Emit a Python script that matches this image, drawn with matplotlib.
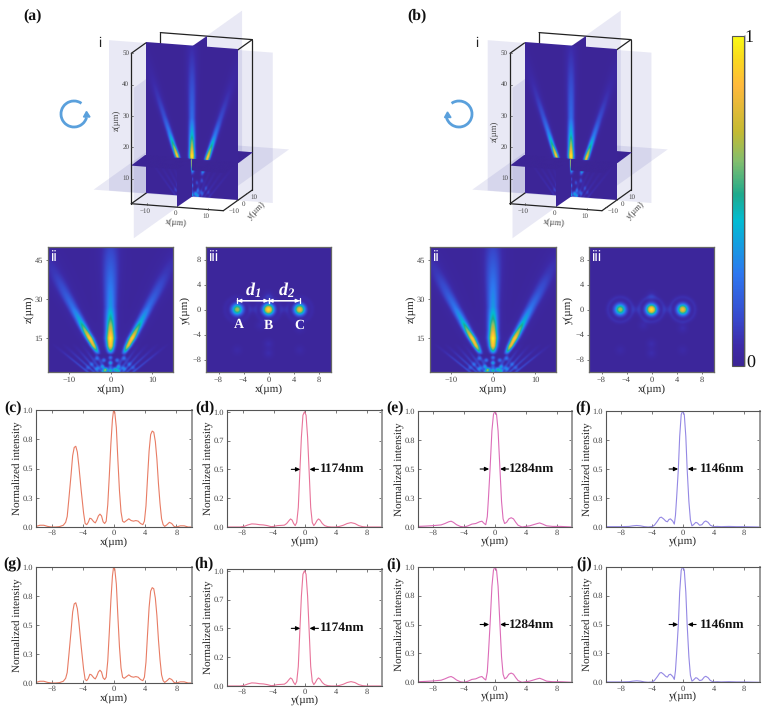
import numpy as np
import matplotlib
matplotlib.use('Agg')
import matplotlib.pyplot as plt
from matplotlib.cm import ScalarMappable
from matplotlib.colors import LinearSegmentedColormap, Normalize
from matplotlib.patches import Arc, Polygon
from matplotlib.transforms import Affine2D

plt.rcParams['font.family'] = ['Liberation Serif', 'DejaVu Serif']
plt.rcParams['text.hinting'] = 'no_hinting'
plt.rcParams['mathtext.fontset'] = 'custom'
plt.rcParams['mathtext.bfit'] = 'Liberation Serif:italic:bold'
plt.rcParams['mathtext.rm'] = 'Liberation Serif'

W, H = 768, 710

# line profiles, (c)/(g)
cx = [-10, -9.5, -9, -8.5, -8, -7.5, -7, -6.5, -6.2, -6, -5.8, -5.5, -5.3, -5.1, -4.9, -4.7, -4.5, -4.2, -3.9, -3.7,
      -3.5, -3.3, -3.1, -2.9, -2.6, -2.4, -2.2, -2, -1.8, -1.6, -1.4, -1.2, -1, -.8, -.6, -.4, -.2, -.05, .1, .3,
      .5, .7, .9, 1.1, 1.3, 1.6, 1.9, 2.2, 2.5, 2.8, 3.1, 3.4, 3.7, 3.9, 4.1, 4.3, 4.5, 4.7, 4.9, 5.1,
      5.3, 5.5, 5.7, 5.9, 6.1, 6.3, 6.5, 6.8, 7.1, 7.4, 7.7, 8, 8.5, 9, 9.5, 10]
cy = [.005, .015, .015, .005, 0, 0, .003, .015, .04, .09, .23, .45, .61, .68, .69, .64, .52, .31, .12, .03,
      .02, .04, .075, .07, .045, .035, .06, .095, .11, .095, .045, .03, .05, .19, .44, .71, .92, 1, .98, .85,
      .57, .31, .13, .05, .04, .055, .07, .055, .05, .055, .05, .03, .02, .05, .18, .42, .65, .79, .82, .81,
      .73, .58, .37, .2, .07, .02, .005, .02, .04, .03, .005, 0, .01, .01, 0, 0]

# (d)/(h)
dx = [-10, -9, -8.3, -7.8, -7.3, -6.8, -6.3, -5.8, -5.3, -4.8, -4.3, -4, -3.5, -3, -2.6, -2.3, -2, -1.8, -1.6, -1.4,
      -1.2, -1, -.8, -.587, -.4, -.2, 0, .2, .4, .587, .8, 1, 1.2, 1.4, 1.6, 1.8, 2, 2.3, 2.6, 3,
      3.5, 4, 4.5, 5, 5.5, 6, 6.5, 7, 7.5, 8, 9, 10]
dy = [0, 0, 0, .005, .018, .027, .025, .02, .018, .012, .003, .005, .012, .014, .016, .03, .055, .07, .06, .03,
      .012, .04, .17, .5, .78, .97, 1, .97, .78, .5, .17, .04, .012, .03, .055, .07, .06, .03, .012, .003,
      0, 0, .005, .015, .03, .038, .03, .012, .003, 0, 0, 0]

# (e)/(i)
ex = [-10, -9, -8, -7, -6.5, -6, -5.7, -5.4, -5, -4.5, -4, -3.5, -3, -2.5, -2, -1.7, -1.4, -1.2, -1, -.85,
      -.642, -.4, -.2, 0, .2, .4, .642, .85, 1.05, 1.25, 1.5, 1.8, 2.1, 2.4, 2.7, 3, 3.5, 4, 4.5, 5,
      5.5, 5.8, 6.2, 6.7, 7.5, 8.5, 10]
ey = [.005, .008, .012, .018, .03, .045, .05, .04, .02, .005, 0, .01, .025, .03, .045, .05, .03, .02, .09, .25,
      .5, .83, .97, 1, .97, .83, .5, .22, .07, .03, .04, .07, .08, .07, .04, .015, 0, .005, .01, .02,
      .03, .035, .025, .01, .005, .005, 0]

# (f)/(j)
fx = [-10, -8, -7, -6.5, -6, -5.5, -5, -4.5, -4, -3.7, -3.3, -3, -2.8, -2.5, -2.2, -2, -1.8, -1.6, -1.3, -1.1,
      -.95, -.8, -.573, -.4, -.2, 0, .2, .4, .573, .8, 1, 1.2, 1.4, 1.7, 1.9, 2.2, 2.5, 2.8, 3, 3.3,
      3.6, 4, 4.5, 5, 6, 7, 8, 10]
fy = [.003, .003, .005, .01, .013, .01, .003, 0, .003, .015, .05, .08, .085, .07, .05, .045, .065, .07, .05, .025,
      .1, .25, .5, .78, .97, 1, .97, .78, .5, .22, .06, .01, .02, .04, .035, .015, .02, .045, .052, .04,
      .015, .003, .005, .003, .005, .003, .003, 0]

fwhm_labels = ['1174nm', '1284nm', '1146nm']

# beam tables for the xz slices: height, centre, peak, width
beam_z = [8.5, 10, 12, 15, 18, 22, 27, 33, 40, 50]
mid_peak = [0, .42, .82, .93, .72, .5, .32, .27, .2, .1]
mid_width = [.5, .55, .62, .72, .72, .8, .88, 1.0, 1.2, 1.5]
right_x = [3.0, 3.5, 4.2, 5.2, 6.2, 7.5, 9.1, 11.1, 13.3, 16.6]
left_x = [-2.8, -3.3, -4.0, -5.0, -6.1, -7.4, -9.1, -11.1, -13.3, -16.6]
side_peak_a = [0, .38, .72, .85, .6, .36, .22, .14, .07, .02]
side_peak_b = [0, .42, .76, .84, .58, .36, .23, .14, .07, .02]
side_width = [.38, .42, .5, .58, .62, .72, .85, 1.05, 1.3, 1.7]

# interference spots under the focus: x, z, amplitude
spot_x = [0, 0, 0, -1.6, 1.6, -2, 2, -3.3, 3.3, -1, 1, -1.5, 0, 1.8, -3.2, 3.2, -4.5, 4.5, -5.5, 5.5]
spot_z = [7.5, 5.5, 3.8, 6.5, 6.5, 4, 4, 7.2, 7.2, 3, 3, 2.4, 2.4, 2.4, 3.3, 3.3, 5, 5, 3.5, 3.5]
spot_amp = [.25, .38, .2, .25, .25, .28, .28, .2, .2, .36, .36, .42, .5, .38, .26, .26, .16, .16, .13, .13]

# faint fan lines spreading from the bottom edge
fan_x0 = [-1, -2, -3, -4, -5.5, 1, 2, 3, 4, 5.5]
fan_x1 = [-5, -7, -9, -11.5, -14, 5, 7, 9, 11.5, 14]
fan_z = [2, 7, 13]
fan_peak = [.14, .09, 0]

# focal spots of the xy slices
focus_x = [-5, 0, 5]
focus_amp_a = [.66, .95, .82]
focus_amp_b = [.66, .95, .82]
focus_width = [.6, .58, .58]
ring_amp_a = .035
ring_amp_b = .055
weak_x = [0, -5, 5, 0, -1.3, 5, 0, -2.5, 2.5]
weak_y = [-7, -6.5, -6.5, 2.2, -2.5, -3, -5.5, 0, 0]
weak_amp = [.05, .035, .035, .06, .045, .05, .05, .05, .05]

stops = [(0, '#3c2596'), (.06, '#3d2aa8'), (.14, '#3848cc'), (.28, '#2d78f0'), (.37, '#149fe0'), (.44, '#02bcd2'),
         (.52, '#1eaa8c'), (.62, '#82be6e'), (.71, '#c4ba32'), (.85, '#ffb93c'), (.93, '#fad81e'), (1, '#fafa14')]
beam_cmap = LinearSegmentedColormap.from_list('beam', stops)


def ridge(X, Z, zs, xs, peaks, widths):
    c = np.interp(Z, zs, xs)
    p = np.interp(Z, zs, peaks)
    w = np.interp(Z, zs, widths)
    return p * np.exp(-(X - c) ** 2 / (2 * w ** 2))


def xz_field(side_peak):
    x = np.linspace(-15, 15, 601)
    z = np.linspace(2, 50, 961)
    X, Z = np.meshgrid(x, z)
    zero = [0] * len(beam_z)
    F = ridge(X, Z, beam_z, zero, mid_peak, mid_width)
    F += ridge(X, Z, beam_z, right_x, side_peak, side_width)
    F += ridge(X, Z, beam_z, left_x, side_peak, side_width)
    # pale halo round the three beams
    for xs in (zero, left_x, right_x):
        F += ridge(X, Z, beam_z, xs, np.array(mid_peak) * .05, np.array(side_width) * 2.5)
    for a, b in zip(fan_x0, fan_x1):
        F += ridge(X, Z, [fan_z[0], fan_z[2]], [a, b], [1, 1], [.3, .4]) * np.interp(Z, fan_z, fan_peak)
    for sx, sz, amp in zip(spot_x, spot_z, spot_amp):
        F += amp * np.exp(-(X - sx) ** 2 / (2 * .35 ** 2) - (Z - sz) ** 2 / (2 * .55 ** 2))
    return np.clip(F + .02, 0, 1)


def xy_field(amps, ring_amp):
    x = np.linspace(-15, 15, 601)
    X, Y = np.meshgrid(x, x)
    F = np.zeros_like(X)
    for cx0, amp, w in zip(focus_x, amps, focus_width):
        R = np.hypot(X - cx0, Y)
        F += amp * np.exp(-R ** 2 / (2 * w ** 2))
        F += ring_amp * np.exp(-(R - 2.0) ** 2 / (2 * .25 ** 2))
    for sx, sy, amp in zip(weak_x, weak_y, weak_amp):
        F += amp * np.exp(-((X - sx) ** 2 + (Y - sy) ** 2) / (2 * .5 ** 2))
    return np.clip(F + .02, 0, 1)


def yz_field():
    y = np.linspace(-15, 15, 301)
    z = np.linspace(2, 50, 481)
    Y, Z = np.meshgrid(y, z)
    return np.clip(ridge(Y, Z, beam_z, [0] * len(beam_z), mid_peak, mid_width) + .02, 0, 1)


def axes_px(x0, y0, x1, y1):
    return fig.add_axes([x0 / W, 1 - y1 / H, (x1 - x0) / W, (y1 - y0) / H])


fig = plt.figure(figsize=(7.68, 7.10), dpi=100)
bg = fig.add_axes([0, 0, 1, 1], zorder=0)
bg.axis('off')

# projection of the 3D view onto pixel positions
unit_x = np.array([92 / 30, 7 / 30])
unit_y = np.array([29 / 30, -20.7 / 30])
unit_z = np.array([0, -150.4 / 48])
base_a = np.array([191.8, 196.85])
z_cut = 14.0
LAV = '#5a5ab4'
EDGE = '#222222'
GR = '#444444'


def draw_3d(off, side_peak, amps, ring_amp, zlabel_y):
    base = base_a + [off, 0]

    def P(x, y, z):
        return base + x * unit_x + y * unit_y + (z - 2) * unit_z

    def poly(pts, **kw):
        bg.add_patch(Polygon(pts, closed=True, **kw))

    def line(a, b, lw=.9, color=EDGE, zorder=6):
        bg.plot([a[0], b[0]], [a[1], b[1]], color=color, lw=lw, zorder=zorder, solid_capstyle='round')

    def sheet(field, extent, T, zorder):
        M = Affine2D.from_values(T[0][0], T[0][1], T[1][0], T[1][1], T[2][0], T[2][1])
        bg.imshow(field, extent=extent, origin='lower', cmap=beam_cmap, vmin=0, vmax=1, aspect='auto',
                  interpolation='bilinear', transform=M + bg.transData, zorder=zorder)

    # pale reference planes behind the box
    plane = dict(facecolor=LAV, alpha=.13, edgecolor='none', zorder=1)
    poly([P(-27, 0, 50), P(26.4, 0, 50), P(26.4, 0, 2), P(-27, 0, 2)], **plane)
    poly([P(0, -60, 50), P(0, 52, 50), P(0, 52, 2), P(0, -60, 2)], **plane)
    poly([P(-16.4, -49.6, z_cut), P(24.6, -49.6, z_cut), P(24.6, 22.6, z_cut), P(-16.4, 22.6, z_cut)], **plane)

    # box edges that sit behind the slices
    line(P(-15, 15, 50), P(15, 15, 50), zorder=2)
    line(P(-15, 15, 50), P(-15, 15, 2), zorder=2)
    line(P(15, 15, 50), P(15, 15, 2), zorder=2)
    line(P(-15, -15, 2), P(-15, 15, 2), zorder=2)
    line(P(15, 15, 50), P(15, 0, 50), zorder=2)

    # the oblique view shows the slices dimmer than the flat panels
    xy = xy_field(amps, ring_amp) ** 1.5
    xz = xz_field(side_peak) ** 1.35
    yz = yz_field() ** 1.35
    z0_shift = -2 * unit_z
    xz_T = (unit_x, unit_z, base + z0_shift)
    yz_T = (unit_y, unit_z, base + z0_shift)
    cut = P(0, 0, z_cut)
    xy_T = (unit_x, unit_y, cut)

    sheet(yz[:, 150:], [0, 15, 2, 50], yz_T, 3)
    sheet(xy[300:, :], [-15, 15, 0, 15], xy_T, 3)
    sheet(xz, [-15, 15, 2, 50], xz_T, 4)
    sheet(xy[:290, :], [-15, 15, -15, -.5], xy_T, 5)
    nz = int((z_cut - 2) * 10)
    sheet(yz[:nz, :151], [-15, 0, 2, z_cut], yz_T, 5.5)

    # front edges
    line(P(-15, -15, 50), P(-15, -15, 2))
    line(P(-15, -15, 2), P(15, -15, 2))
    line(P(15, -15, 2), P(15, 15, 2))
    line(P(-15, -15, 50), P(-15, 0, 50))

    for z in [10, 20, 30, 40, 50]:
        a = P(-15, -15, z)
        line(a, a + [2, 0], lw=.5, color=GR)
        bg.text(a[0] - 5.5, a[1], str(z), fontsize=5, color=GR, ha='center', va='center', zorder=7)
    for v in [-10, 0, 10]:
        a = P(v, -15, 2)
        line(a, a + [0, -1.5], lw=.5, color=GR)
        bg.text(a[0] - 2, a[1] + 6.5, str(v).replace('-', '\u2212'), fontsize=5, color=GR, ha='center', va='center', zorder=7)
        a = P(15, v, 2)
        line(a, a + [-1.5, 0], lw=.5, color=GR)
        bg.text(a[0] + 6, a[1] + 4, str(v).replace('-', '\u2212'), fontsize=5, color=GR, ha='center', va='center', zorder=7)
    bg.text(175.7 + off, 222.7, 'x(\u00b5m)', fontsize=6.2, color=GR, ha='center', va='center', rotation=-5, zorder=7)
    bg.text(256.7 + off, 210, 'y(\u00b5m)', fontsize=6.2, color=GR, ha='center', va='center', rotation=45, zorder=7)
    bg.text(116.3 + off, zlabel_y, 'z(\u00b5m)', fontsize=6.2, color=GR, ha='center', va='center', rotation=90, zorder=7)


draw_3d(0, side_peak_a, focus_amp_a, ring_amp_a, 120)
draw_3d(378.7, side_peak_b, focus_amp_b, ring_amp_b, 131)
bg.set_xlim(0, W)
bg.set_ylim(H, 0)

# rotation arrows
BLUE = '#5aa0dc'
bg.add_patch(Arc((74, 114), 26, 26, theta1=15, theta2=305, color=BLUE, lw=2.0, zorder=7))
bg.add_patch(Polygon([(83.5, 117), (90, 117), (86.5, 111.5)], closed=True, color=BLUE, zorder=7))
bg.add_patch(Arc((459, 114), 26, 26, theta1=235, theta2=165, color=BLUE, lw=2.0, zorder=7))
bg.add_patch(Polygon([(444.5, 117.5), (451, 117.5), (447.5, 112)], closed=True, color=BLUE, zorder=7))

# slice panels ii and iii
ii_boxes = [(48, 247, 173, 372), (430, 247, 556, 372)]
iii_boxes = [(206, 247, 331, 372), (589, 247, 714, 372)]
sides = [side_peak_a, side_peak_b]
amps_all = [focus_amp_a, focus_amp_b]
rings = [ring_amp_a, ring_amp_b]
TICK = '#444444'

for k in range(2):
    ax = axes_px(*ii_boxes[k])
    ax.imshow(xz_field(sides[k]), extent=[-15, 15, 2, 50], origin='lower', cmap=beam_cmap, vmin=0, vmax=1,
              aspect='auto', interpolation='bilinear')
    ax.set_xticks([-10, 0, 10])
    ax.set_yticks([15, 30, 45])
    ax.set_xlabel('x(\u00b5m)', fontsize=8, color='#222222', labelpad=0)
    ax.set_ylabel('z(\u00b5m)', fontsize=8, color='#222222', labelpad=1)
    ax.text(.025, .975, 'ii', transform=ax.transAxes, color='white', fontsize=11, family='Liberation Sans', va='top')

    ax2 = axes_px(*iii_boxes[k])
    ax2.imshow(xy_field(amps_all[k], rings[k]), extent=[-15, 15, -15, 15], origin='lower', cmap=beam_cmap, vmin=0, vmax=1,
               aspect='auto', interpolation='bilinear')
    ax2.set_xlim(-10, 10)
    ax2.set_ylim(-10, 10)
    ax2.set_xticks([-8, -4, 0, 4, 8])
    ax2.set_yticks([-8, -4, 0, 4, 8])
    ax2.set_xlabel('x(\u00b5m)', fontsize=8, color='#222222', labelpad=0)
    ax2.set_ylabel('y(\u00b5m)', fontsize=8, color='#222222', labelpad=1)
    ax2.text(.025, .975, 'iii', transform=ax2.transAxes, color='white', fontsize=11, family='Liberation Sans', va='top')
    for a in (ax, ax2):
        a.tick_params(labelsize=6, length=1.5, width=.5, pad=2, colors=TICK, direction='out')
        for s in a.spines.values():
            s.set_color('#666666')
            s.set_linewidth(.9)
    if k == 0:
        # separation marks on the first xy slice
        for a0, b0 in [(-5, 0), (0, 5)]:
            ax2.annotate('', xy=(a0, 1.4), xytext=(b0, 1.4),
                         arrowprops=dict(arrowstyle='|-|,widthA=.18,widthB=.18', color='white', lw=.9, shrinkA=0, shrinkB=0))
            ax2.annotate('', xy=(a0, 1.4), xytext=(b0, 1.4),
                         arrowprops=dict(arrowstyle='<|-|>,head_width=.1,head_length=.22', color='white', lw=.9, shrinkA=0, shrinkB=0))
        wkw = dict(color='white', ha='center', va='center')
        ax2.text(-2.4, 3.0, r'$\mathbfit{d}_{\mathbfit{1}}$', fontsize=13, **wkw)
        ax2.text(2.9, 3.0, r'$\mathbfit{d}_{\mathbfit{2}}$', fontsize=13, **wkw)
        for name, xp in zip('ABC', [-4.8, 0, 5.0]):
            ax2.text(xp, -2.5, name, fontsize=10, fontweight='bold', **wkw)

# colour bar
cax = axes_px(731.7, 35.7, 744, 366)
cb = fig.colorbar(ScalarMappable(norm=Normalize(0, 1), cmap=beam_cmap), cax=cax, ticks=[])
cb.outline.set_edgecolor('#555555')
cb.outline.set_linewidth(.8)
bg.plot([745, 745], [36, 366], color='#bbbbbb', lw=1.2, zorder=1)
bg.text(749, 38, '1', fontsize=13, ha='center', va='center', color='#111111')
bg.text(750.7, 364, '0', fontsize=13, ha='center', va='center', color='#111111')

# line profile panels
panels = [
    ('(c)', (36, 410, 192, 527), cx, cy, '#e87c64', 'x', 1.0, ['0.0', '0.3', '0.5', '0.8', '1.0'], None, (13, 408)),
    ('(d)', (227, 410, 382, 527), dx, dy, '#e8749a', 'y', 1.015, ['0.0', '0.2', '0.5', '0.7', '1.0'], 0, (205, 408)),
    ('(e)', (418, 411, 572, 527), ex, ey, '#dc6cb8', 'y', 1.0, ['0.0', '0.3', '0.5', '0.8', '1.0'], 1, (395, 408)),
    ('(f)', (606, 411, 759.5, 527), fx, fy, '#9488e4', 'y', 1.0, ['0.0', '0.3', '0.5', '0.8', '1.0'], 2, (583, 408)),
    ('(g)', (36, 566.7, 192, 683), cx, cy, '#e87c64', 'x', 1.0, ['0.0', '0.3', '0.5', '0.8', '1.0'], None, (13, 564)),
    ('(h)', (227, 569, 382, 686), dx, dy, '#e8749a', 'y', 1.015, ['0.0', '0.2', '0.5', '0.7', '1.0'], 0, (204, 564)),
    ('(i)', (418, 566.7, 572, 682.3), ex, ey, '#dc6cb8', 'y', 1.0, ['0.0', '0.3', '0.5', '0.8', '1.0'], 1, (394, 565)),
    ('(j)', (606, 566.7, 759.5, 682.3), fx, fy, '#9488e4', 'y', 1.0, ['0.0', '0.3', '0.5', '0.8', '1.0'], 2, (584, 564)),
]
fwhm_arrows = [(-1.7, -.55, 1.8, .65, 2.0), (-1.93, -.76, 1.76, .67, 1.76), (-1.78, -.6, 1.74, .65, 2.2)]

for tag, box, xs, ys, col, xname, top, ylabels, fw, pos in panels:
    ax = axes_px(*box)
    ax.plot(xs, ys, color=col, lw=.8)
    ax.set_xlim(-10, 10)
    ax.set_ylim(0, top)
    ax.set_xticks([-8, -4, 0, 4, 8])
    ax.set_yticks([0, .25, .5, .75, 1])
    ax.set_yticklabels(ylabels)
    ax.set_xlabel(xname + '(\u00b5m)', fontsize=8, color='#222222', labelpad=0)
    ax.set_ylabel('Normalized intensity', fontsize=8, color='#222222', labelpad=0)
    ax.tick_params(labelsize=6, length=2, width=.5, pad=2, colors=TICK, direction='in', top=True, right=True)
    for s in ax.spines.values():
        s.set_color('#555555')
        s.set_linewidth(.8)
    ax.spines['right'].set_color('#999999')
    ax.spines['right'].set_linewidth(1.4)
    if fw is not None:
        a0, a1, b0, b1, tx = fwhm_arrows[fw]
        ak = dict(arrowstyle='-|>,head_width=.12,head_length=.25', color='black', lw=.8, shrinkA=0, shrinkB=0)
        ax.annotate('', xy=(a1, .5), xytext=(a0, .5), arrowprops=ak)
        ax.annotate('', xy=(b1, .5), xytext=(b0, .5), arrowprops=ak)
        ax.text(tx, .5, fwhm_labels[fw], fontsize=9.6, fontweight='bold', va='center', ha='left', color='#111111')
    bg.text(pos[0], pos[1], tag, fontsize=11.3, fontweight='bold', ha='center', va='center', color='#111111')

bg.text(33, 16, '(a)', fontsize=11.3, fontweight='bold', ha='center', va='center', color='#111111')
bg.text(417, 16, '(b)', fontsize=11.3, fontweight='bold', ha='center', va='center', color='#111111')
bg.text(100, 43, 'i', fontsize=10, family='Liberation Sans', ha='center', va='center', color='#222222')
bg.text(477, 43, 'i', fontsize=10, family='Liberation Sans', ha='center', va='center', color='#222222')

fig.savefig('out.png', dpi=100)
